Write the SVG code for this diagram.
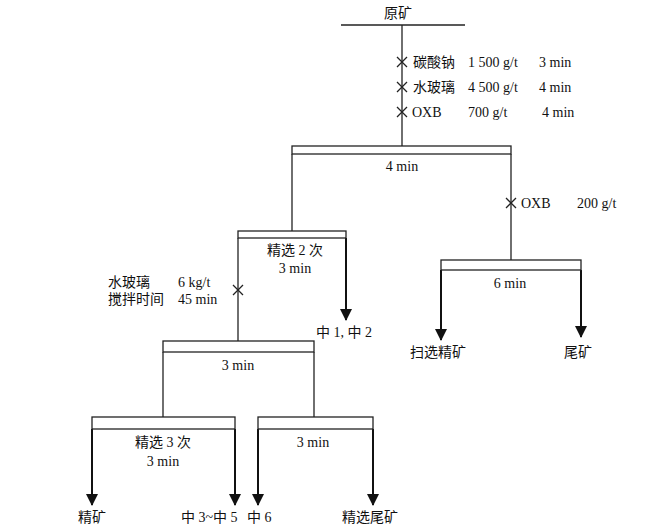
<svg xmlns="http://www.w3.org/2000/svg" width="670" height="532" viewBox="0 0 670 532">
<defs>
<style>
text{font-family:"Liberation Serif","Noto Sans CJK SC",serif;font-size:14px;fill:#111}
.c{text-anchor:middle}
.ln{stroke:#222;stroke-width:1.3;fill:none}
.ar{stroke:#111;stroke-width:2;fill:none;marker-end:url(#ah)}
.bar{fill:#fff;stroke:#222;stroke-width:1.3}
.x{stroke:#222;stroke-width:1.3}
</style>
<marker id="ah" viewBox="0 0 12 12" refX="11" refY="6" markerWidth="12" markerHeight="12" markerUnits="userSpaceOnUse" orient="auto">
<path d="M0,0 L12,6 L0,12 Z" fill="#111"/>
</marker>
</defs>
<rect width="670" height="532" fill="#fff"/>
<g id="connectors">
<line class="ln" x1="341" y1="25" x2="465" y2="25" stroke-width="2"/>
<line class="ln" x1="402" y1="25" x2="402" y2="146"/>
<line class="ln" x1="292" y1="154" x2="292" y2="231"/>
<line class="ln" x1="511" y1="154" x2="511" y2="260"/>
<line class="ln" x1="238" y1="238" x2="238" y2="341"/>
<path class="ar" d="M346,238 V320"/>
<line class="ln" x1="163" y1="352" x2="163" y2="417"/>
<line class="ln" x1="314" y1="352" x2="314" y2="417"/>
<path class="ar" d="M441,270 V340"/>
<path class="ar" d="M581,270 V337"/>
<path class="ar" d="M92,429 V505"/>
<path class="ar" d="M235,429 V505"/>
<path class="ar" d="M258,429 V505"/>
<path class="ar" d="M373,429 V505"/>
</g>
<g id="marks">
<path class="x" d="M397,57 l10,10 M407,57 l-10,10"/>
<path class="x" d="M397,82 l10,10 M407,82 l-10,10"/>
<path class="x" d="M397,107 l10,10 M407,107 l-10,10"/>
<path class="x" d="M506,198 l10,10 M516,198 l-10,10"/>
<path class="x" d="M233,285 l10,10 M243,285 l-10,10"/>
</g>
<g id="feed">
<text x="398" y="18" class="c">原矿</text>
<text x="413" y="67">碳酸钠</text>
<text x="468" y="67">1 500 g/t</text>
<text x="539" y="67">3 min</text>
<text x="413" y="92">水玻璃</text>
<text x="468" y="92">4 500 g/t</text>
<text x="539" y="92">4 min</text>
<text x="412" y="117">OXB</text>
<text x="468" y="117">700 g/t</text>
<text x="542" y="117">4 min</text>
</g>
<g id="rougher">
<rect class="bar" x="292" y="146" width="219" height="8"/>
<text x="402" y="171" class="c">4 min</text>
</g>
<g id="oxb2">
<text x="521" y="208">OXB</text>
<text x="577" y="208">200 g/t</text>
</g>
<g id="cleaner2">
<rect class="bar" x="238" y="231" width="108" height="7"/>
<text x="295" y="255" class="c">精选 2 次</text>
<text x="295" y="273" class="c">3 min</text>
<text x="316" y="337">中 1, 中 2</text>
</g>
<g id="reagent">
<text x="108" y="287">水玻璃</text>
<text x="178" y="287">6 kg/t</text>
<text x="108" y="304">搅拌时间</text>
<text x="178" y="304">45 min</text>
</g>
<g id="scavenger">
<rect class="bar" x="441" y="260" width="140" height="10"/>
<text x="510" y="288" class="c">6 min</text>
<text x="410" y="357">扫选精矿</text>
<text x="564" y="357">尾矿</text>
</g>
<g id="cleaner-a">
<rect class="bar" x="163" y="341" width="151" height="11"/>
<text x="238" y="370" class="c">3 min</text>
</g>
<g id="cleaner3">
<rect class="bar" x="92" y="417" width="143" height="12"/>
<text x="163" y="447" class="c">精选 3 次</text>
<text x="163" y="466" class="c">3 min</text>
<text x="78" y="522">精矿</text>
<text x="181" y="522">中 3~中 5</text>
</g>
<g id="cleaner-b">
<rect class="bar" x="258" y="417" width="115" height="12"/>
<text x="313" y="447" class="c">3 min</text>
<text x="247" y="522">中 6</text>
<text x="342" y="522">精选尾矿</text>
</g>
</svg>
